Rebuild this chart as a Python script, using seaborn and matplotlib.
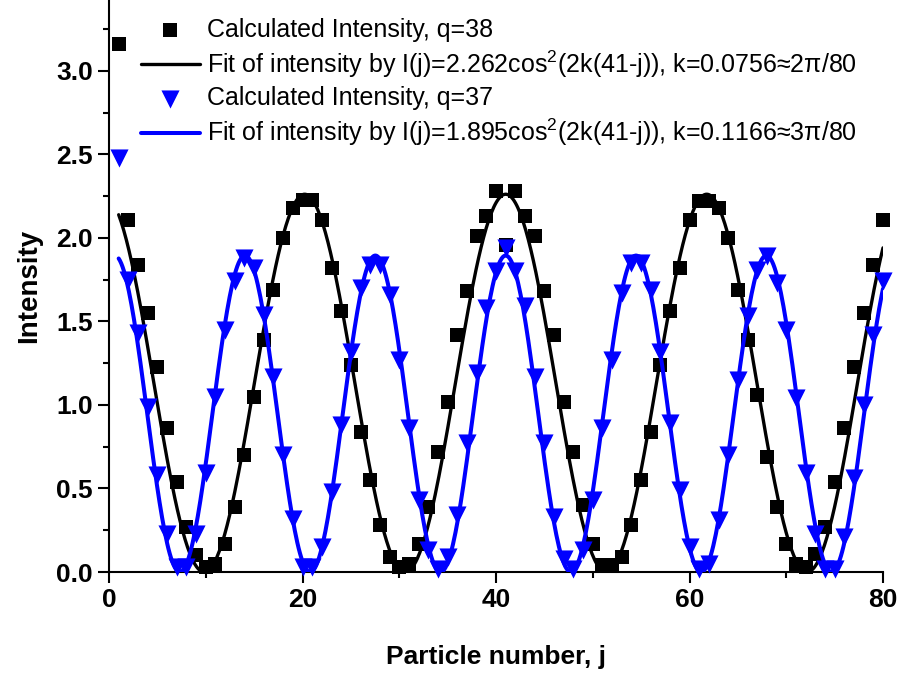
import numpy as np
import pandas as pd
import matplotlib
matplotlib.use("Agg")
import matplotlib.pyplot as plt
from matplotlib.ticker import MultipleLocator
import seaborn as sns

# particle index and calculated intensities
j = np.arange(1, 81)
intensity_q38 = [3.16, 2.11, 1.84, 1.55, 1.23, 0.86, 0.54, 0.27, 0.10, 0.03,
                 0.05, 0.17, 0.39, 0.70, 1.05, 1.39, 1.69, 2.00, 2.18, 2.23,
                 2.23, 2.11, 1.82, 1.56, 1.24, 0.84, 0.55, 0.28, 0.09, 0.03,
                 0.05, 0.17, 0.39, 0.72, 1.02, 1.42, 1.68, 2.01, 2.13, 2.28,
                 1.96, 2.28, 2.13, 2.01, 1.68, 1.42, 1.02, 0.72, 0.40, 0.17,
                 0.04, 0.04, 0.09, 0.28, 0.55, 0.84, 1.24, 1.56, 1.82, 2.11,
                 2.22, 2.22, 2.18, 2.00, 1.69, 1.39, 1.06, 0.69, 0.39, 0.17,
                 0.05, 0.03, 0.11, 0.27, 0.54, 0.86, 1.23, 1.55, 1.84, 2.11]
intensity_q37 = [2.48, 1.75, 1.43, 0.99, 0.58, 0.23, 0.03, 0.03, 0.23, 0.59,
                 1.05, 1.45, 1.74, 1.88, 1.82, 1.54, 1.17, 0.70, 0.32, 0.03,
                 0.03, 0.15, 0.48, 0.88, 1.32, 1.70, 1.84, 1.84, 1.66, 1.27,
                 0.86, 0.43, 0.13, 0.02, 0.09, 0.34, 0.77, 1.19, 1.58, 1.80,
                 1.94, 1.80, 1.59, 1.17, 0.77, 0.33, 0.08, 0.02, 0.13, 0.43,
                 0.86, 1.27, 1.67, 1.85, 1.85, 1.69, 1.32, 0.89, 0.49, 0.15,
                 0.02, 0.05, 0.31, 0.70, 1.15, 1.53, 1.81, 1.89, 1.73, 1.45,
                 1.04, 0.59, 0.23, 0.02, 0.02, 0.21, 0.56, 1.00, 1.42, 1.74]

# fit parameters from the legend: I(j) = A cos^2(2k(41-j))
AMP_38, K_38 = 2.262, 0.0756
AMP_37, K_37 = 1.895, 0.1166
J_CENTER = 41

label_pts38 = "Calculated Intensity, q=38"
label_fit38 = r"Fit of intensity by I(j)=2.262cos$^{\mathregular{2}}$(2k(41-j)), k=0.0756≈2π/80"
label_pts37 = "Calculated Intensity, q=37"
label_fit37 = r"Fit of intensity by I(j)=1.895cos$^{\mathregular{2}}$(2k(41-j)), k=0.1166≈3π/80"

sns.set_style("ticks")
plt.rcParams['font.family'] = ['Liberation Sans', 'DejaVu Sans']
plt.rcParams['mathtext.fontset'] = 'custom'
plt.rcParams['mathtext.rm'] = 'Liberation Sans'
plt.rcParams['text.color'] = 'black'
plt.rcParams['axes.labelcolor'] = 'black'

j_fine = np.linspace(1, 80, 600)
fit38 = AMP_38 * np.cos(2 * K_38 * (J_CENTER - j_fine)) ** 2
fit37 = AMP_37 * np.cos(2 * K_37 * (J_CENTER - j_fine)) ** 2

df38 = pd.DataFrame({"j": j, "I": intensity_q38})
df37 = pd.DataFrame({"j": j, "I": intensity_q37})

fig = plt.figure(figsize=(9.01, 6.73), dpi=100)
ax = fig.add_axes([109 / 901, 101 / 673, 774 / 901, 572 / 673])

sns.scatterplot(data=df38, x="j", y="I", marker="s", s=105, color="black",
                linewidth=0, clip_on=False, zorder=3, ax=ax, legend=False)
sns.lineplot(x=j_fine, y=fit38, color="black", linewidth=2.4, ax=ax,
             errorbar=None, legend=False, zorder=4)
sns.scatterplot(data=df37, x="j", y="I", marker="v", s=170, color="#0000ff",
                linewidth=0, clip_on=False, zorder=5, ax=ax, legend=False)
sns.lineplot(x=j_fine, y=fit37, color="#0000ff", linewidth=2.9, ax=ax,
             errorbar=None, legend=False, zorder=6)

handles = [ax.collections[0], ax.lines[0], ax.collections[1], ax.lines[1]]
labels = [label_pts38, label_fit38, label_pts37, label_fit37]
ax.legend(handles, labels, loc="upper left", bbox_to_anchor=(141 / 901, 1 - 18 / 673),
          bbox_transform=fig.transFigure, frameon=False, fontsize=18,
          borderpad=0, handlelength=2.35, handletextpad=0.3, labelspacing=0.26,
          scatterpoints=1, borderaxespad=0)

ax.set_xlim(0, 80)
ax.set_ylim(0, 3.425)
ax.xaxis.set_major_locator(MultipleLocator(20))
ax.xaxis.set_minor_locator(MultipleLocator(10))
ax.yaxis.set_major_locator(MultipleLocator(0.5))
ax.yaxis.set_minor_locator(MultipleLocator(0.25))
ax.tick_params(which="major", direction="out", length=8, width=1.5,
               labelsize=19, colors="black")
ax.tick_params(which="minor", direction="out", length=4.5, width=1.5, colors="black")
for lab in ax.get_xticklabels() + ax.get_yticklabels():
    lab.set_fontweight("bold")

sns.despine(ax=ax)
for side in ["left", "bottom"]:
    ax.spines[side].set_linewidth(1.5)
    ax.spines[side].set_color("black")

ax.set_xlabel("Particle number, j", fontsize=19, fontweight="bold", labelpad=24)
ax.set_ylabel("Intensity", fontsize=20, fontweight="bold", labelpad=10)

fig.savefig("out.png", dpi=100)
